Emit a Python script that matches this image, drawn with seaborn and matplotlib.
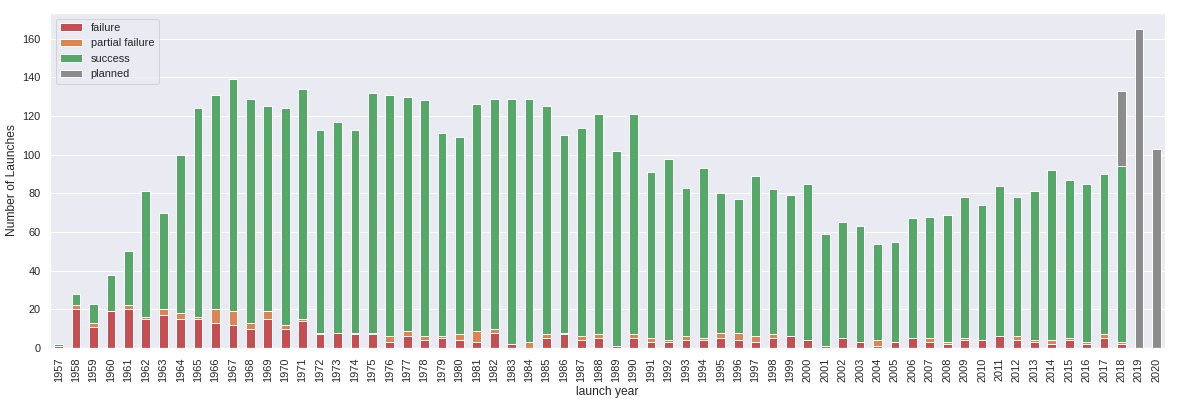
import numpy as np
import pandas as pd
import matplotlib
matplotlib.use("Agg")
import matplotlib.pyplot as plt
import seaborn as sns

years = list(range(1957, 2021))
failure = [1, 20, 11, 19, 20, 15, 17, 15, 15, 13, 12, 10, 15, 10, 14, 7, 8, 7, 7, 3,
           6, 4, 5, 4, 3, 8, 2, 0, 5, 7, 4, 5, 1, 5, 3, 3, 4, 4, 5, 4,
           3, 5, 6, 4, 1, 5, 3, 1, 3, 5, 3, 2, 4, 4, 6, 4, 3, 2, 4, 2,
           5, 2, 0, 0]
partial = [0, 2, 2, 0, 2, 1, 3, 3, 1, 7, 7, 3, 4, 2, 1, 1, 0, 1, 1, 3,
           3, 2, 1, 3, 6, 2, 0, 3, 2, 1, 2, 2, 0, 2, 2, 1, 2, 1, 3, 4,
           3, 2, 0, 0, 0, 0, 0, 3, 0, 0, 2, 1, 1, 0, 0, 2, 1, 2, 1, 1,
           2, 1, 0, 0]
success = [1, 6, 10, 19, 28, 65, 50, 82, 108, 111, 120, 116, 106, 112, 119, 105, 109, 105, 124, 125,
           121, 122, 105, 102, 117, 119, 127, 126, 118, 102, 108, 114, 101, 114, 86, 94, 77, 88, 72, 69,
           83, 75, 73, 81, 58, 60, 60, 50, 52, 62, 63, 66, 73, 70, 78, 72, 77, 88, 82, 82,
           83, 91, 0, 0]
planned = [0] * 61 + [39, 165, 103]

labels = ["failure", "partial failure", "success", "planned"]
series = [failure, partial, success, planned]

sns.set_theme(style="darkgrid")
plt.rcParams["font.family"] = ["Liberation Sans", "DejaVu Sans"]
colors = sns.color_palette("deep")
series_colors = [colors[3], colors[1], colors[2], colors[7]]

fig, ax = plt.subplots(figsize=(1178 / 72, 404 / 72), dpi=72)
fig.subplots_adjust(left=50 / 1178, right=1165 / 1178, bottom=(404 - 348) / 404, top=(404 - 13) / 404)

year_labels = [str(y) for y in years]
bottom = np.zeros(len(years))
for lab, vals, col in zip(labels, series, series_colors):
    vals = np.array(vals, dtype=float)
    sns.barplot(x=year_labels, y=vals, color=col, saturation=1, width=0.5,
                errorbar=None, label=lab, bottom=bottom, edgecolor="white",
                linewidth=1, ax=ax)
    bottom = bottom + vals

ax.set_xlim(-0.5, len(years) - 0.5)
ax.set_ylim(0, bottom.max() * 1.05)
ax.set_yticks(range(0, 161, 20))
ax.tick_params(axis="x", rotation=90)
ax.set_xlabel("launch year")
ax.set_ylabel("Number of Launches")
ax.legend(loc="upper left")

fig.savefig("out.png", dpi=72)
